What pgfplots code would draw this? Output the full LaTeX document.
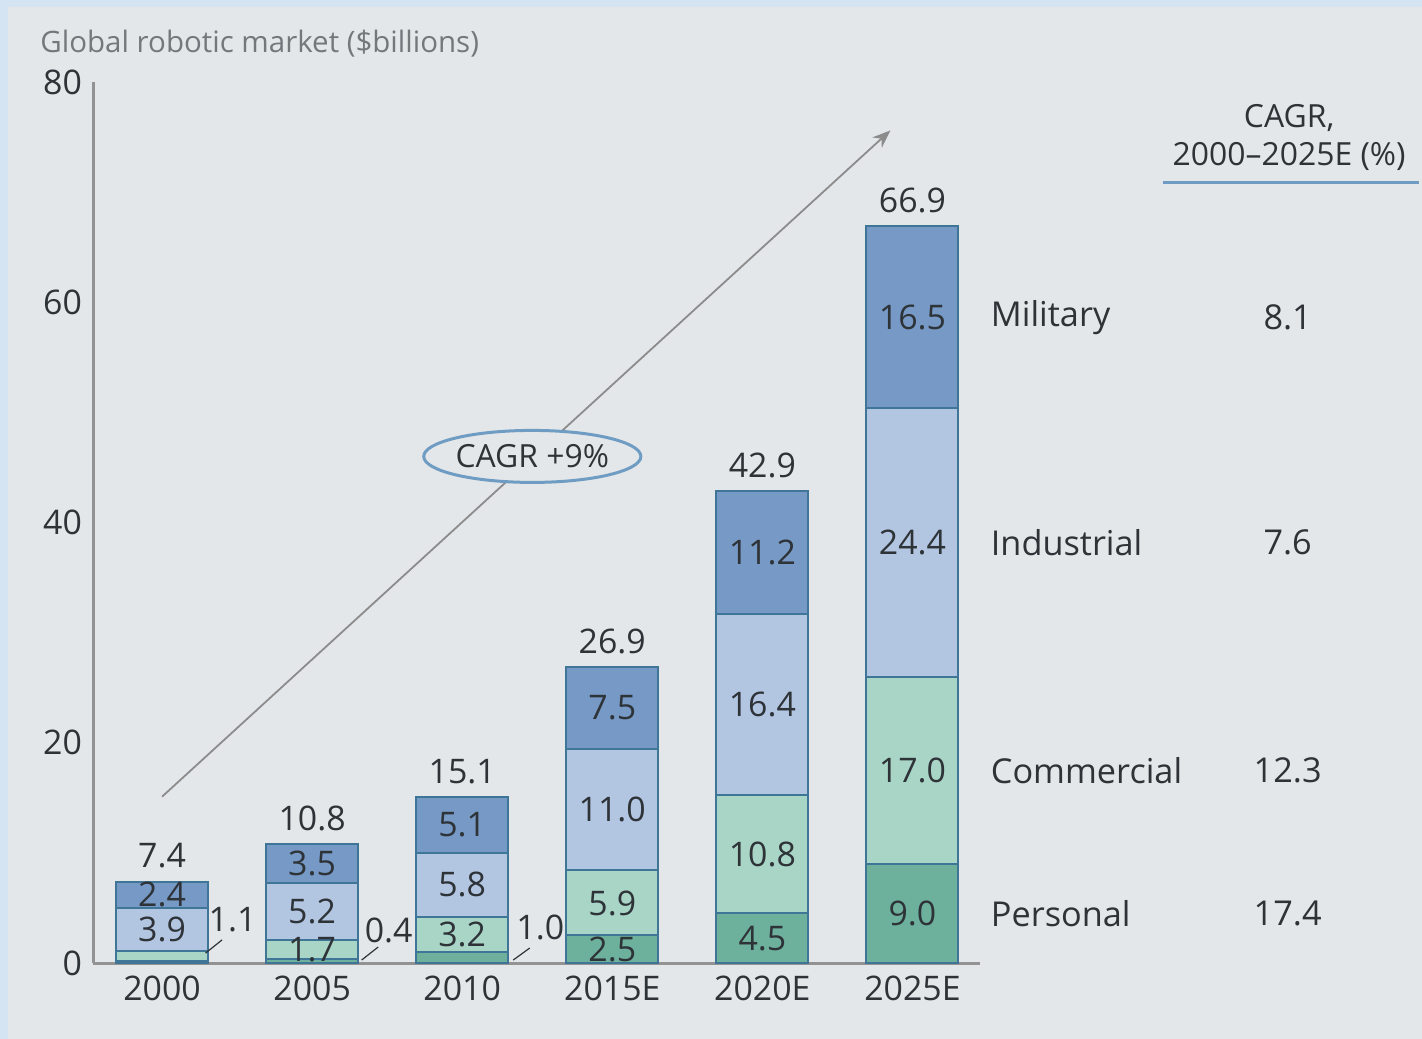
\documentclass[border=0pt]{standalone}
\usepackage{pgfplots}
\pgfplotsset{compat=1.18}
\usepackage{pgfplotstable}
\usepackage{fontspec}
\setmainfont{Open Sans}
\usetikzlibrary{arrows.meta,shapes.geometric}

\definecolor{bg}{HTML}{E4E7EA}
\definecolor{frame}{HTML}{D4E4F3}
\definecolor{mil}{HTML}{7699C6}
\definecolor{ind}{HTML}{B2C6E2}
\definecolor{com}{HTML}{A9D5C6}
\definecolor{per}{HTML}{6DB09C}
\definecolor{edge}{HTML}{3F7596}
\definecolor{txt}{HTML}{2E3338}
\definecolor{ttl}{HTML}{74777B}
\definecolor{rule}{HTML}{6F9CC2}

% segments per year: Personal, Commercial, Industrial, Military, total ($bn)
\pgfplotstableread{
x P C I M T
0 0.2 0.9 3.9 2.4 7.4
1 0.4 1.7 5.2 3.5 10.8
2 1.0 3.2 5.8 5.1 15.1
3 2.5 5.9 11.0 7.5 26.9
4 4.5 10.8 16.4 11.2 42.9
5 9.0 17.0 24.4 16.5 66.9
}\data

\newcommand{\num}{\pgfmathprintnumber[fixed,fixed zerofill,precision=1]{\pgfplotspointmeta}}

\begin{document}
\begin{tikzpicture}
% 1 px of the reference = 0.5bp; axis box corner at px (93,963)
\path[use as bounding box, fill=frame] (-46.5bp,-38bp) rectangle (664.5bp,481.5bp);
\fill[bg] (-42.5bp,-38bp) rectangle (664.5bp,478bp);
\begin{axis}[
    at={(0,0)}, anchor=south west,
    scale only axis, width=443.5bp, height=440.5bp,
    xmin=-0.46, xmax=5.45, ymin=0, ymax=80,
    axis x line=bottom, axis y line=left,
    axis line style={-, draw=gray!85, line width=1.5bp},
    major tick length=0pt,
    xtick={0,...,5},
    xticklabels={2000,2005,2010,2015E,2020E,2025E},
    ytick={0,20,40,60,80},
    tick label style={font=\fontsize{17}{20}\selectfont, text=txt},
    yticklabel style={xshift=-2bp},
    xticklabel style={yshift=-3bp},
    /pgf/number format/assume math mode=true,
    clip=false,
    every node near coord/.append style={font=\fontsize{17}{20}\selectfont, text=txt, anchor=center},
]
% cumulative bars, drawn from the top series down
\addplot[ybar, bar width=46bp, bar shift=0pt, fill=mil, draw=edge, line width=1bp]
    table[x=x, y expr=\thisrow{P}+\thisrow{C}+\thisrow{I}+\thisrow{M}] {\data};
\addplot[ybar, bar width=46bp, bar shift=0pt, fill=ind, draw=edge, line width=1bp]
    table[x=x, y expr=\thisrow{P}+\thisrow{C}+\thisrow{I}] {\data};
\addplot[ybar, bar width=46bp, bar shift=0pt, fill=com, draw=edge, line width=1bp]
    table[x=x, y expr=\thisrow{P}+\thisrow{C}] {\data};
\addplot[ybar, bar width=46bp, bar shift=0pt, fill=per, draw=edge, line width=1bp]
    table[x=x, y=P] {\data};

% segment labels
\addplot[draw=none, point meta=explicit, nodes near coords=\num]
    table[x=x, y expr=\thisrow{P}+\thisrow{C}+\thisrow{I}+\thisrow{M}/2, meta=M] {\data};
\addplot[draw=none, point meta=explicit, nodes near coords=\num]
    table[x=x, y expr=\thisrow{P}+\thisrow{C}+\thisrow{I}/2, meta=I] {\data};
\addplot[draw=none, point meta=explicit, nodes near coords=\num, skip coords between index={0}{1}]
    table[x=x, y expr=\thisrow{P}+\thisrow{C}/2, meta=C] {\data};
\addplot[draw=none, point meta=explicit, nodes near coords=\num, skip coords between index={0}{3}]
    table[x=x, y expr=\thisrow{P}/2, meta=P] {\data};
% totals
\addplot[draw=none, point meta=explicit, nodes near coords=\num,
    every node near coord/.append style={anchor=south, yshift=3bp}]
    table[x=x, y=T, meta=T] {\data};

% callouts for the thin bottom segments
\begin{scope}[font=\fontsize{17}{20}\selectfont, text=txt]
\draw[txt, line width=0.6bp] (axis cs:0.29,0.9) -- (axis cs:0.40,2.1);
\node at (axis cs:0.47,3.9) {1.1};
\draw[txt, line width=0.6bp] (axis cs:1.33,0.27) -- (axis cs:1.44,1.45);
\node at (axis cs:1.51,3.0) {0.4};
\draw[txt, line width=0.6bp] (axis cs:2.34,0.27) -- (axis cs:2.45,1.36);
\node at (axis cs:2.52,3.27) {1.0};
\end{scope}

% growth arrow and CAGR bubble
\draw[gray!90, line width=0.9bp, -{Stealth[length=9bp,width=7bp]}]
    (axis cs:0,15.1) -- (axis cs:4.853,75.6);
\node[ellipse, draw=rule, fill=bg, line width=1.5bp, minimum width=107bp,
    minimum height=26bp, inner sep=0pt, text=txt,
    font=\fontsize{16}{19}\selectfont] at (axis cs:2.467,46.0) {CAGR +9\%};

% title
\node[anchor=west, inner sep=0pt, text=ttl, font=\fontsize{14.8}{17}\selectfont]
    at (axis cs:-0.813,83.45) {Global robotic market (\$billions)};

% right-hand legend and CAGR column
\begin{scope}[font=\fontsize{17.2}{20}\selectfont, text=txt]
\node[anchor=west, inner sep=0pt] at (axis cs:5.52,58.65) {Military};
\node[anchor=west, inner sep=0pt] at (axis cs:5.52,38.2) {Industrial};
\node[anchor=west, inner sep=0pt] at (axis cs:5.52,17.5) {Commercial};
\node[anchor=west, inner sep=0pt] at (axis cs:5.52,4.5) {Personal};
\node at (axis cs:7.5,58.65) {8.1};
\node at (axis cs:7.5,38.2) {7.6};
\node at (axis cs:7.5,17.5) {12.3};
\node at (axis cs:7.5,4.5) {17.4};
\end{scope}
\node[text=txt, font=\fontsize{16}{19}\selectfont] at (axis cs:7.51,76.7) {CAGR,};
\node[text=txt, font=\fontsize{16}{19}\selectfont] at (axis cs:7.51,73.2) {2000–2025E (\%)};
\draw[rule, line width=1.5bp] (axis cs:6.667,70.83) -- (axis cs:8.373,70.83);
\end{axis}
\end{tikzpicture}
\end{document}
